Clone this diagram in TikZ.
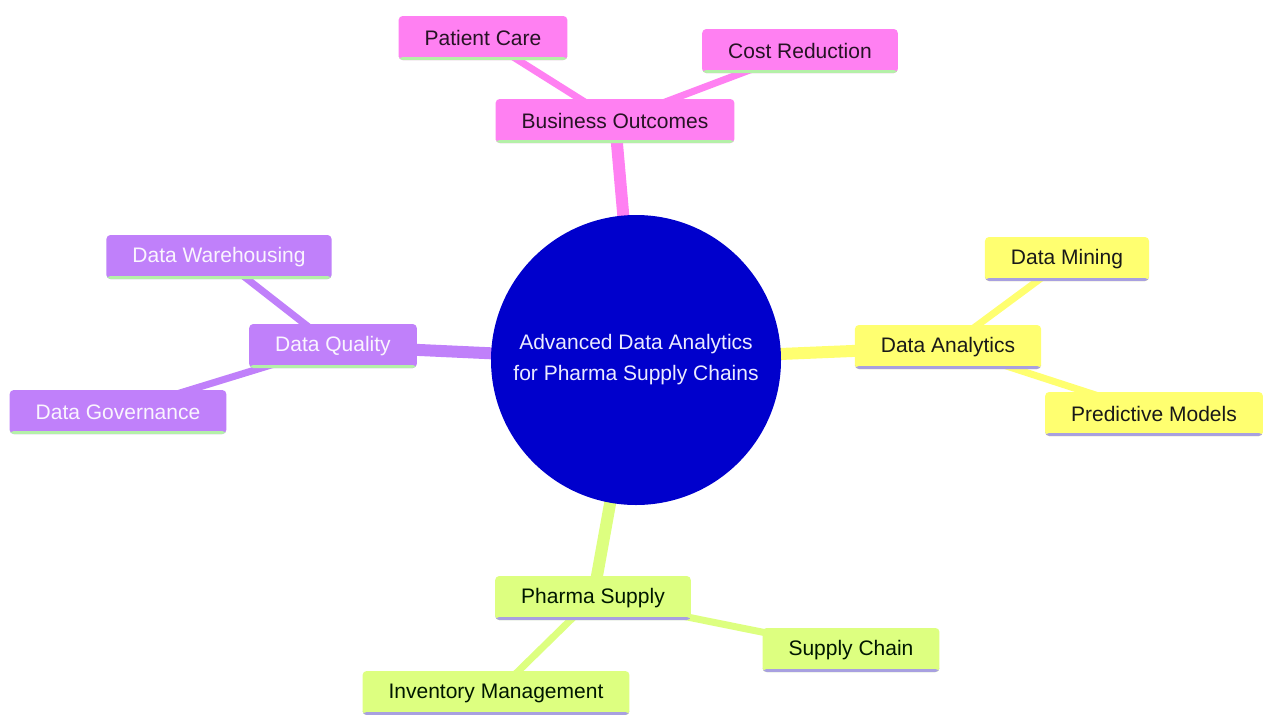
\documentclass[tikz,border=0pt]{standalone}
\usepackage{fontspec}
\setmainfont{Liberation Sans}
\usetikzlibrary{backgrounds}
\definecolor{hubblue}{HTML}{0000CC}
\definecolor{pinkfill}{HTML}{FF80F2}
\definecolor{purplefill}{HTML}{C080FA}
\definecolor{yellowfill}{HTML}{FFFF70}
\definecolor{greenfill}{HTML}{DDFF80}
\definecolor{mintline}{HTML}{B4F0A8}
\definecolor{lavline}{HTML}{A8A0E0}
\tikzstyle{box}=[rectangle,rounded corners=4pt,minimum height=44pt,inner xsep=26pt,
  font=\fontsize{21}{25}\selectfont]
\tikzstyle{pinkbox}=[box,fill=pinkfill,text=black!85!pinkfill,
  path picture={\fill[mintline] (path picture bounding box.south west) rectangle ([yshift=3pt]path picture bounding box.south east);}]
\tikzstyle{purplebox}=[box,fill=purplefill,text=white!92!purplefill,
  path picture={\fill[mintline] (path picture bounding box.south west) rectangle ([yshift=3pt]path picture bounding box.south east);}]
\tikzstyle{yellowbox}=[box,fill=yellowfill,text=black!90,
  path picture={\fill[lavline] (path picture bounding box.south west) rectangle ([yshift=3pt]path picture bounding box.south east);}]
\tikzstyle{greenbox}=[box,fill=greenfill,text=black!85!green!60!black,
  path picture={\fill[lavline] (path picture bounding box.south west) rectangle ([yshift=3pt]path picture bounding box.south east);}]
\tikzstyle{hub}=[circle,fill=hubblue,text=white!92!blue,minimum size=290pt,align=center,
  font=\fontsize{21}{31}\selectfont]
\tikzstyle{branch}=[line width=12pt]
\tikzstyle{twig}=[line width=7pt]

\begin{document}
\begin{tikzpicture}[x=1pt,y=-1pt]
\useasboundingbox (0,0) rectangle (1264,715);

\node[hub]       (hub)  at (636,360) {Advanced Data Analytics\\for Pharma Supply Chains};

\node[pinkbox]   (biz)  at (615,121) {Business Outcomes};
\node[pinkbox]   (care) at (483,38)  {Patient Care};
\node[pinkbox]   (cost) at (800,51)  {Cost Reduction};

\node[purplebox] (qual) at (333,346) {Data Quality};
\node[purplebox] (ware) at (219,257) {Data Warehousing};
\node[purplebox] (gov)  at (118,412) {Data Governance};

\node[yellowbox] (ana)  at (948,347) {Data Analytics};
\node[yellowbox] (mine) at (1067,259) {Data Mining};
\node[yellowbox] (pred) at (1154,414) {Predictive Models};

\node[greenbox]  (pharma) at (593,598) {Pharma Supply};
\node[greenbox]  (chain)  at (851,650) {Supply Chain};
\node[greenbox]  (inv)    at (496,693) {Inventory Management};

\begin{pgfonlayer}{background}
\fill[white] (0,0) rectangle (1264,715);
\path[draw=pinkfill]   (hub.center) edge[branch] (biz.center)
                       (biz.center) edge[twig] (care.center)
                       (biz.center) edge[twig] (cost.center);
\path[draw=purplefill] (hub.center) edge[branch] (qual.center)
                       (qual.center) edge[twig] (ware.center)
                       (qual.center) edge[twig] (gov.center);
\path[draw=yellowfill] (hub.center) edge[branch] (ana.center)
                       (ana.center) edge[twig] (mine.center)
                       (ana.center) edge[twig] (pred.center);
\path[draw=greenfill]  (hub.center) edge[branch] (pharma.center)
                       (pharma.center) edge[twig] (chain.center)
                       (pharma.center) edge[twig] (inv.center);
\end{pgfonlayer}

\end{tikzpicture}
\end{document}
